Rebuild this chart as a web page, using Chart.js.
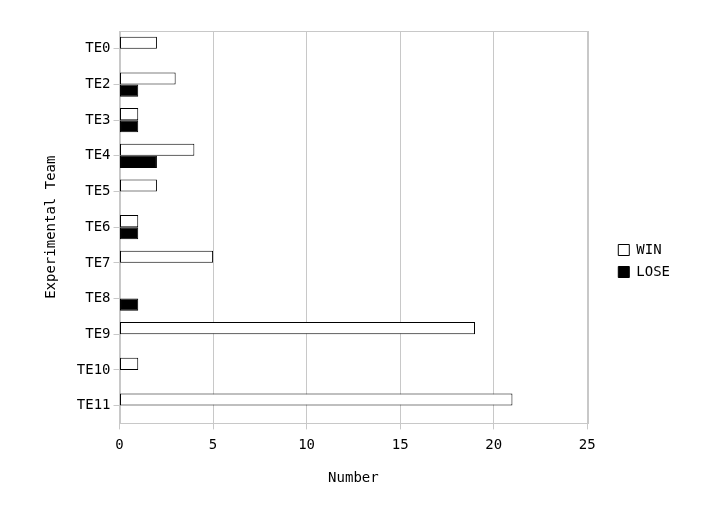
<!DOCTYPE html>
<html>
<head>
<meta charset="utf-8">
<script src="https://cdn.jsdelivr.net/npm/chart.js@4"></script>
<style>
  body { margin: 0; background: #fff; }
  #wrap { width: 719px; height: 521px; }
</style>
</head>
<body>
<div id="wrap"><canvas id="teamChart" width="719" height="521"></canvas></div>
<script>
"use strict";

// Teams on the y axis (there is no TE1 in the source)
const teams = ["TE0", "TE2", "TE3", "TE4", "TE5", "TE6", "TE7", "TE8", "TE9", "TE10", "TE11"];
const winCounts = [2, 3, 1, 4, 2, 1, 5, 0, 19, 1, 21];
const loseCounts = [0, 1, 1, 2, 0, 1, 0, 1, 0, 0, 0];
const xTicks = [0, 5, 10, 15, 20, 25];

const FONT = "'DejaVu Sans Mono', monospace";

// Thin frame around the plot area
const frame = {
  id: "frame",
  beforeDatasetsDraw(chart) {
    const a = chart.chartArea;
    const ctx = chart.ctx;
    ctx.save();
    ctx.strokeStyle = "#c8c8c8";
    ctx.lineWidth = 1;
    ctx.strokeRect(Math.round(a.left) + 0.5, Math.round(a.top) + 0.5,
      Math.round(a.right - a.left), Math.round(a.bottom - a.top));
    ctx.restore();
  }
};

new Chart(document.getElementById("teamChart"), {
  type: "bar",
  data: {
    labels: teams,
    datasets: [{
      label: "WIN",
      data: winCounts,
      backgroundColor: "#ffffff",
      borderColor: "#000000",
      borderWidth: 1,
      borderSkipped: false
    }, {
      label: "LOSE",
      data: loseCounts,
      backgroundColor: "#000000",
      borderColor: "#000000",
      borderWidth: 1,
      borderSkipped: false
    }]
  },
  options: {
    indexAxis: "y",
    responsive: false,
    animation: false,
    categoryPercentage: 0.68,
    barPercentage: 1,
    layout: { padding: { left: 39, top: 31, right: 39, bottom: 30 } },
    plugins: {
      tooltip: { enabled: false },
      legend: {
        position: "right",
        align: "center",
        labels: {
          font: { family: FONT, size: 14 },
          color: "#000",
          boxWidth: 11,
          boxHeight: 11,
          padding: 8
        }
      }
    },
    scales: {
      x: {
        min: 0,
        max: 25,
        afterBuildTicks(axis) { axis.ticks = xTicks.map(v => ({ value: v })); },
        grid: { color: "#c8c8c8", tickLength: 6 },
        border: { color: "#c8c8c8" },
        ticks: { font: { family: FONT, size: 14 }, color: "#000", padding: 8 },
        title: {
          display: true,
          text: "Number",
          font: { family: FONT, size: 14 },
          color: "#000",
          padding: { top: 8 }
        }
      },
      y: {
        grid: { display: true, drawOnChartArea: false, offset: false, color: "#c8c8c8", tickLength: 6 },
        border: { color: "#c8c8c8" },
        ticks: { font: { family: FONT, size: 14 }, color: "#000", padding: 3 },
        title: {
          display: true,
          text: "Experimental Team",
          font: { family: FONT, size: 14 },
          color: "#000",
          padding: { bottom: 14 }
        }
      },
      // empty spacer axis: keeps a gap between the plot and the legend
      gap: {
        axis: "y",
        type: "linear",
        position: "right",
        grid: { display: false },
        border: { display: false },
        ticks: { display: false },
        afterFit(scale) { scale.width = 23; }
      }
    }
  },
  plugins: [frame]
});
</script>
</body>
</html>
